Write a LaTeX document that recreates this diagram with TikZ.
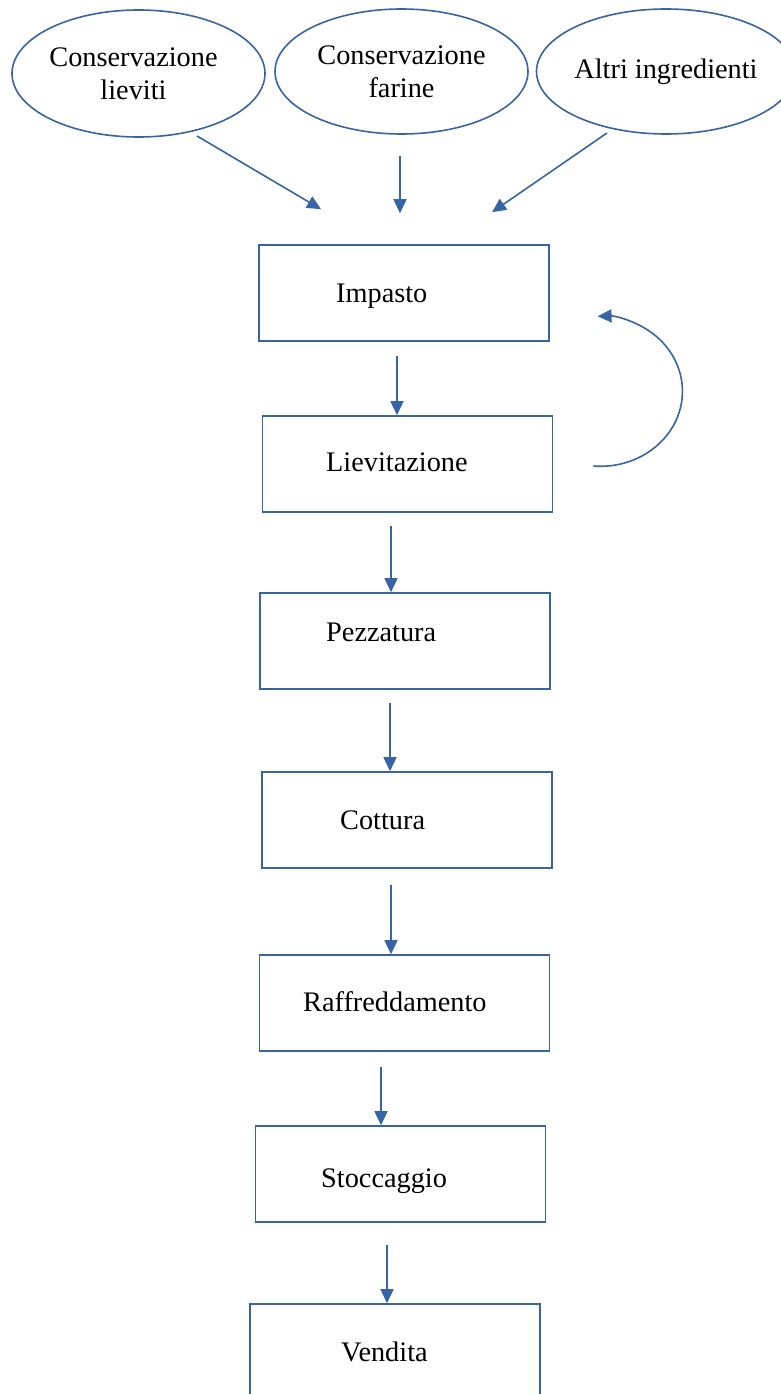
\documentclass[tikz,border=0pt]{standalone}
\usepackage{fontspec}
\setmainfont{Liberation Serif}
\usetikzlibrary{shapes.geometric,arrows.meta,calc}
\definecolor{lineblue}{RGB}{55,100,165}
\begin{document}
\begin{tikzpicture}[x=1pt,y=-1pt,
  every node/.style={font=\fontsize{28.3}{33}\selectfont},
  oval/.style={ellipse,draw=lineblue,line width=1.6pt,inner sep=0pt,align=center,minimum width=253pt,minimum height=125pt},
  stepbox/.style={rectangle,draw=lineblue,line width=1.6pt,inner sep=0pt,minimum width=290pt,minimum height=96pt},
  lbl/.style={anchor=base west,inner sep=0pt},
  arr/.style={draw=lineblue,line width=1.6pt,-{Triangle[length=14pt,width=13pt]}}]
\useasboundingbox (0,0) rectangle (781,1394);
\clip (0,0) rectangle (781,1394);
\fill[white] (0,0) rectangle (781,1394);
% ellipses
\node[oval,minimum height=127pt] (e1) at (138.5,73.5) {Conservazione\kern10pt\\lieviti\kern10pt};
\node[oval] (e2) at (401.5,71.5) {Conservazione\\farine};
\node[oval] (e3) at (666,71.5) {\raisebox{-2.5pt}{Altri ingredienti}};
% boxes
\node[stepbox] (imp) at (404,293) {};
\node[stepbox] (lie) at (407.5,464) {};
\node[stepbox] (pez) at (405,641) {};
\node[stepbox] (cot) at (407,820) {};
\node[stepbox] (raf) at (404.5,1003) {};
\node[stepbox] (sto) at (400.5,1174) {};
\node[stepbox] (ven) at (395,1352) {};
% labels
\node[lbl] (timp) at (336,302) {Impasto};
\node[lbl] (tlie) at (326,471) {Lievitazione};
\node[lbl] (tpez) at (326,641) {Pezzatura};
\node[lbl] (tcot) at (340,829) {Cottura};
\node[lbl] (traf) at (303,1011) {Raffreddamento};
\node[lbl] (tsto) at (321,1187) {Stoccaggio};
\node[lbl] (tven) at (341,1361) {Vendita};
% input arrows
\draw[arr] ([shift={(58.5pt,-62.5pt)}]e1.center) -- ([xshift=-83pt,yshift=35pt]imp.north);
\draw[arr] ([xshift=-1.5pt,yshift=-21pt]e2.south) -- ([xshift=-4pt,yshift=31pt]imp.north);
\draw[arr] ([shift={(-59pt,-61.5pt)}]e3.center) -- ([xshift=88pt,yshift=32pt]imp.north);
% process arrows
\draw[arr] ([xshift=-7pt,yshift=-14pt]imp.south) -- ([xshift=-10.5pt]lie.north);
\draw[arr] ([xshift=-16.5pt,yshift=-13pt]lie.south) -- ([xshift=-14pt]pez.north);
\draw[arr] ([xshift=-15pt,yshift=-13pt]pez.south) -- ([xshift=-17pt]cot.north);
\draw[arr] ([xshift=-16pt,yshift=-16pt]cot.south) -- ([xshift=-13.5pt]raf.north);
\draw[arr] ([xshift=-23.5pt,yshift=-15pt]raf.south) -- ([xshift=-19.5pt]sto.north);
\draw[arr] ([xshift=-13.5pt,yshift=-22pt]sto.south) -- ([xshift=-8pt]ven.north);
% loop arrow
\draw[arr] ([xshift=40pt,yshift=-2pt]lie.east) arc[start angle=-95,end angle=92,x radius=82pt,y radius=75pt];
\end{tikzpicture}
\end{document}
